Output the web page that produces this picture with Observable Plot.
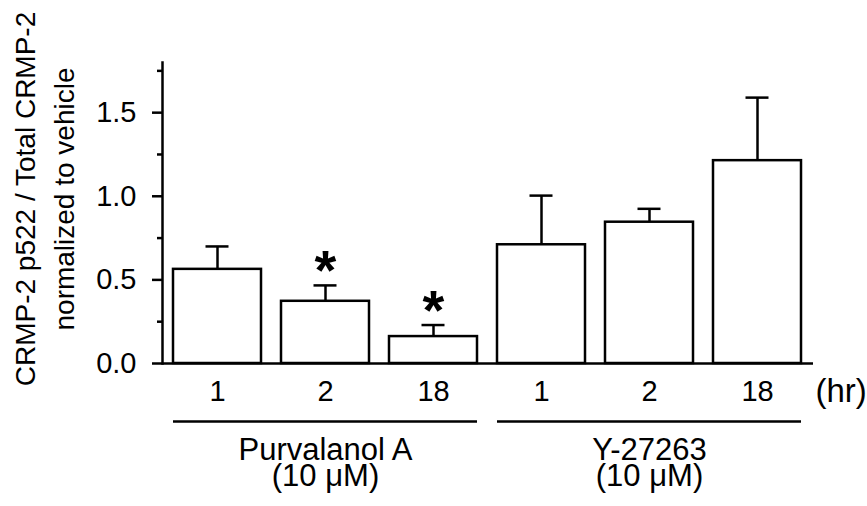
<!DOCTYPE html>
<html><head><meta charset="utf-8">
<script src="https://cdn.jsdelivr.net/npm/d3@7"></script>
<script src="https://cdn.jsdelivr.net/npm/@observablehq/plot@0.6"></script>
<style>
html,body{margin:0;padding:0;background:#fff;overflow:hidden;}
svg{display:block;}
</style></head><body><div id="chart"></div>
<script>
// ---- data ----
const ids = ["p1", "p2", "p18", "y1", "y2", "y18"];
const hours = ["1", "2", "18", "1", "2", "18"];
const means = [0.563, 0.372, 0.161, 0.71, 0.845, 1.213];
const errors = [0.137, 0.095, 0.069, 0.294, 0.08, 0.377];
const stars = ["", "*", "*", "", "", ""];
const groupNames = ["Purvalanol A", "Y-27263"];
const groupDoses = ["(10 \u03bcM)", "(10 \u03bcM)"];
const groupFirst = ["p1", "y1"];
const groupMid = ["p2", "y2"];
const groupLast = ["p18", "y18"];
const yMajor = [0, 0.5, 1.0, 1.5];
const yMinor = [0.25, 0.75, 1.25, 1.75];
const yTitle = ["CRMP-2 p522 / Total CRMP-2\nnormalized to vehicle"];
const xUnit = ["(hr)"];

const rows = ids.map((id, i) => ({id, mean: means[i], top: means[i] + errors[i], star: stars[i]}));
const groupRows = groupNames.map((name, i) => ({name, dose: groupDoses[i], first: groupFirst[i], mid: groupMid[i], last: groupLast[i]}));

const SW = 2.5;
const chart = Plot.plot({
  width: 867,
  height: 506,
  marginTop: 62,
  marginBottom: 143,
  marginLeft: 162,
  marginRight: 54,
  style: {fontFamily: "'Liberation Sans', Arial, sans-serif", fontSize: "29px", color: "#000", background: "#fff"},
  x: {type: "band", domain: ids, paddingInner: 0.185, paddingOuter: 0.1, axis: null},
  y: {domain: [0, 1.8], axis: null},
  marks: [
    Plot.barY(rows, {x: "id", y: "mean", fill: "white", stroke: "black", strokeWidth: SW}),
    Plot.ruleX(rows, {x: "id", y1: "mean", y2: "top", stroke: "black", strokeWidth: SW}),
    Plot.tickY(rows, {x: "id", y: "top", stroke: "black", strokeWidth: SW, insetLeft: 32.5, insetRight: 32.5}),
    Plot.ruleY([0], {stroke: "black", strokeWidth: SW}),
    Plot.frame({anchor: "left", stroke: "black", strokeWidth: SW}),
    Plot.axisY({ticks: yMajor, tickFormat: d3.format(".1f"), tickSize: 10, tickPadding: 16, strokeWidth: SW, fontSize: 29, label: null}),
    Plot.axisY({ticks: yMinor, tickFormat: () => "", tickSize: 5, strokeWidth: SW, label: null}),
    Plot.axisX({tickSize: 0, tickPadding: 17, tickFormat: (d) => hours[ids.indexOf(d)], fontSize: 29, label: null}),
    Plot.text(rows, {x: "id", y: "top", text: "star", fontSize: 56, fontWeight: "bold", lineAnchor: "middle", dy: -14}),
    Plot.ruleY(groupRows, {x1: "first", x2: "last", y: () => 0, dy: 58, stroke: "black", strokeWidth: SW}),
    Plot.text(groupRows, {x: "mid", y: () => 0, text: "name", lineAnchor: "bottom", dy: 96, fontSize: 31}),
    Plot.text(groupRows, {x: "mid", y: () => 0, text: "dose", lineAnchor: "bottom", dy: 122, fontSize: 31}),
    Plot.text(xUnit, {text: (d) => d, frameAnchor: "bottom-right", textAnchor: "start", lineAnchor: "top", dx: 2, dy: 15, fontSize: 33}),
    Plot.text(yTitle, {text: (d) => d, frameAnchor: "left", rotate: -90, textAnchor: "middle", lineAnchor: "top", lineHeight: 1.39, dx: -155, dy: -14, fontSize: 28})
  ]
});
document.getElementById("chart").append(chart);
</script>
</body></html>
